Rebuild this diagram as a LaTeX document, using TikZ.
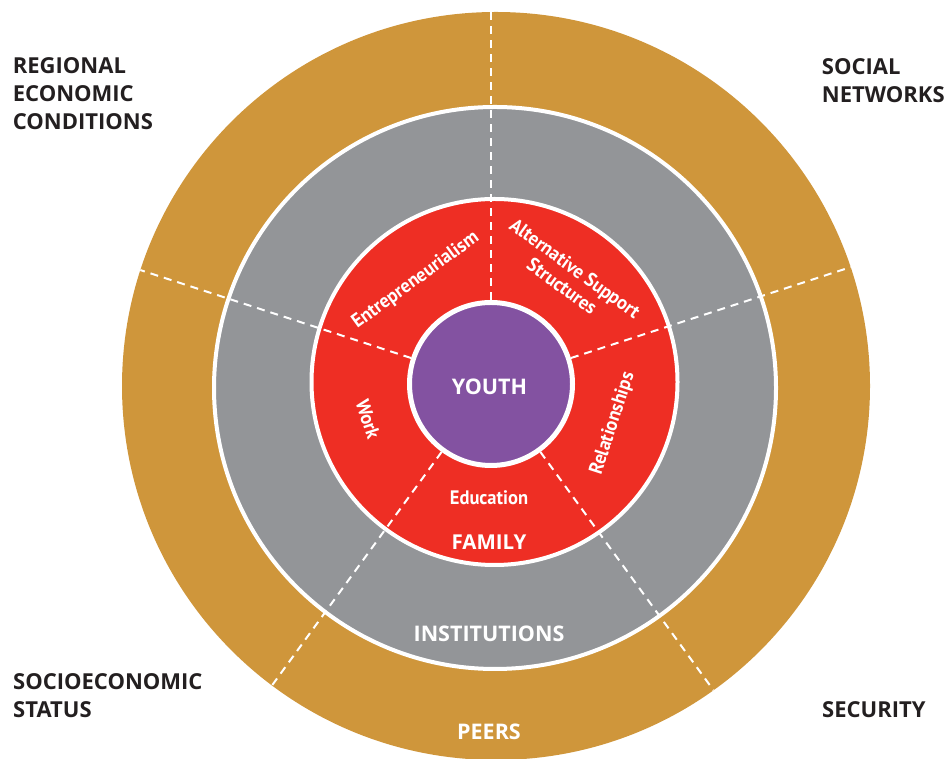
\documentclass[tikz,border=0pt]{standalone}
\usepackage{fontspec}
\setmainfont{PT Sans}
\newfontfamily\capsfont{Open Sans}
\newfontfamily\narrowfont[FakeStretch=0.95]{PT Sans}

\definecolor{peergold}{RGB}{207,150,59}
\definecolor{instgray}{RGB}{147,149,152}
\definecolor{famred}{RGB}{238,46,36}
\definecolor{youthpurple}{RGB}{131,82,161}
\definecolor{labeldark}{RGB}{35,31,32}

\tikzstyle{cornerlabel}=[anchor=north west,inner sep=0pt,align=left,text=labeldark,font=\capsfont\bfseries\fontsize{22}{28}\selectfont]
\tikzstyle{ringlabel}=[inner sep=0pt,text=white,font=\capsfont\bfseries\fontsize{21.5}{26}\selectfont]
\tikzstyle{sectorlabel}=[inner sep=0pt,text=white,align=center,font=\narrowfont\bfseries\fontsize{19.5}{22}\selectfont]
\tikzstyle{divider}=[white,line width=2pt,dash pattern=on 8pt off 6pt]

\begin{document}
\begin{tikzpicture}[x=1pt,y=1pt]
    \useasboundingbox (0,0) rectangle (944,759);
    % rings
    \fill[peergold] (496,373) circle (374pt);
    \filldraw[fill=instgray,draw=white,line width=4pt] (495,371) circle (281pt);
    \filldraw[fill=famred,draw=white,line width=4pt] (494.5,377) circle (183pt);
    \coordinate (c) at (491,375);

    % dividers
    \begin{scope}
      \clip (496,373) circle (374pt);
      \foreach \a in {18,90,162,234,306}
        \draw[divider] (c) -- ([shift={(\a:400)}]c);
    \end{scope}
    \filldraw[fill=youthpurple,draw=white,line width=5pt] (c) circle (81.5pt);

    % outside labels
    \node[cornerlabel] (regional) at (12.7,702) {REGIONAL\\ECONOMIC\\CONDITIONS};
    \node[cornerlabel] (social)   at (821.7,700.7) {SOCIAL\\NETWORKS};
    \node[cornerlabel] (socio)    at (13,85.7) {SOCIOECONOMIC\\STATUS};
    \node[cornerlabel] (security) at (822,57.3) {SECURITY};

    % ring labels
    \node[ringlabel] (youth)        at (489.5,372.5) {YOUTH};
    \node[ringlabel,font=\capsfont\bfseries\fontsize{20.5}{24}\selectfont] (family) at (489,217) {FAMILY};
    \node[ringlabel] (institutions) at (489,125.5) {INSTITUTIONS};
    \node[ringlabel] (peers)        at (489,27) {PEERS};

    % family sectors
    \node[sectorlabel] (education) at (489,261) {Education};
    \node[sectorlabel,rotate=36]  (entrepreneurialism) at ([shift={(126:128)}]c) {Entrepreneurialism};
    \node[sectorlabel,rotate=-36] (support) at ([shift={(54:132)}]c) {Alternative Support\\Structures};
    \node[sectorlabel,rotate=72]  (relationships) at ([shift={(-18:128)}]c) {Relationships};
    \node[sectorlabel,rotate=-72] (work) at ([shift={(196:128)}]c) {Work};
\end{tikzpicture}
\end{document}
